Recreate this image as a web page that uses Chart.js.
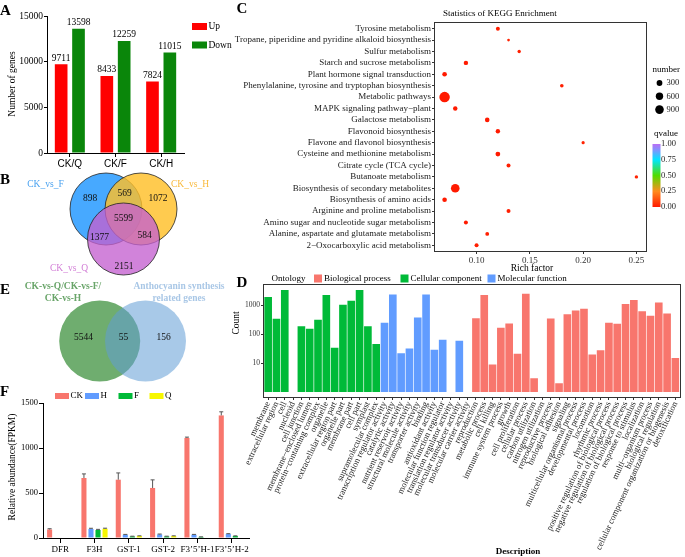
<!DOCTYPE html>
<html>
<head>
<meta charset="utf-8">
<title>DEG figure</title>
<script src="https://cdn.jsdelivr.net/npm/chart.js@4.4.1/dist/chart.umd.min.js"></script>
<style>
  body { margin: 0; background: #fff; }
  #fig { position: relative; width: 685px; height: 557px; overflow: hidden; background: #fff; }
  #fig canvas { position: absolute; left: 0; top: 0; }
</style>
</head>
<body>
<div id="fig">
  <canvas id="vennB" width="685" height="557"></canvas>
  <canvas id="vennE" width="685" height="557"></canvas>
  <canvas id="chartA" width="685" height="557"></canvas>
  <canvas id="chartC" width="685" height="557"></canvas>
  <canvas id="chartD" width="685" height="557"></canvas>
  <canvas id="chartF" width="685" height="557"></canvas>
</div>
<script>
// ---------- data ----------
// A: number of DEGs
const comparisons = ['CK/Q', 'CK/F', 'CK/H'];
const upGenes = [9711, 8433, 7824];
const downGenes = [13598, 12259, 11015];
const geneTicks = [0, 5000, 10000, 15000];

// B: venn of the three comparisons
const vennBSets = ['CK_vs_F', 'CK_vs_H', 'CK_vs_Q'];
const vennBCounts = [898, 569, 1072, 5599, 1377, 584, 2151]; // F, F&H, H, all, F&Q, H&Q, Q

// C: KEGG enrichment
const keggTerms = [
  'Tyrosine metabolism',
  'Tropane, piperidine and pyridine alkaloid biosynthesis',
  'Sulfur metabolism',
  'Starch and sucrose metabolism',
  'Plant hormone signal transduction',
  'Phenylalanine, tyrosine and tryptophan biosynthesis',
  'Metabolic pathways',
  'MAPK signaling pathway\u2212plant',
  'Galactose metabolism',
  'Flavonoid biosynthesis',
  'Flavone and flavonol biosynthesis',
  'Cysteine and methionine metabolism',
  'Citrate cycle (TCA cycle)',
  'Butanoate metabolism',
  'Biosynthesis of secondary metabolites',
  'Biosynthesis of amino acids',
  'Arginine and proline metabolism',
  'Amino sugar and nucleotide sugar metabolism',
  'Alanine, aspartate and glutamate metabolism',
  '2\u2212Oxocarboxylic acid metabolism'
];
const keggRich = [0.12, 0.13, 0.14, 0.09, 0.07, 0.18, 0.07, 0.08, 0.11, 0.12,
                  0.20, 0.12, 0.13, 0.25, 0.08, 0.07, 0.13, 0.09, 0.11, 0.10];
const keggGenes = [83, 10, 40, 119, 140, 53, 1500, 119, 140, 119,
                   30, 162, 83, 40, 900, 140, 83, 83, 67, 83];
const keggQ = [0.01, 0.02, 0.01, 0.0, 0.0, 0.01, 0.0, 0.0, 0.0, 0.0,
               0.02, 0.0, 0.01, 0.02, 0.0, 0.0, 0.01, 0.0, 0.01, 0.01];
const richTicks = [0.10, 0.15, 0.20, 0.25];
const sizeLegend = [300, 600, 900];
const qTicks = [1.00, 0.75, 0.50, 0.25, 0.00];

// D: GO classification
const ontologies = ['Biological process', 'Cellular component', 'Molecular function'];
const ccTerms = ['membrane', 'extracellular region', 'cell', 'nucleoid', 'cell junction',
  'membrane\u2212enclosed lumen', 'protein\u2212containing complex', 'organelle',
  'extracellular region part', 'organelle part', 'membrane part', 'cell part', 'symplast',
  'supramolecular complex'];
const ccCounts = [1950, 343, 3400, null, 190, 155, 316, 2290, 34, 1050, 1460, 3400, 190, 46];
const mfTerms = ['transcription regulator activity', 'catalytic activity', 'nutrient reservoir activity',
  'structural molecule activity', 'transporter activity', 'binding', 'antioxidant activity',
  'molecular function regulator', 'translation regulator activity', 'molecular transducer activity',
  'molecular carrier activity'];
const mfCounts = [250, 2410, 22, 32, 382, 2400, 29, 65, null, 60, null];
const bpTerms = ['reproduction', 'metabolic process', 'cell killing', 'immune system process', 'growth',
  'cell proliferation', 'cellular process', 'carbon utilization', 'nitrogen utilization',
  'reproductive process', 'biological adhesion', 'signaling', 'multicellular organismal process',
  'developmental process', 'locomotion', 'rhythmic process', 'positive regulation of biological process',
  'negative regulation of biological process', 'regulation of biological process', 'response to stimulus',
  'localization', 'multi\u2212organism process', 'biological regulation',
  'cellular component organization or biogenesis', 'detoxification'];
const bpCounts = [361, 2290, 9, 167, 236, 21, 2550, 3, null, 352, 2, 498, 670, 766, 20, 28,
  250, 230, 1110, 1530, 630, 437, 1270, 525, 15];
const countTicks = [10, 100, 1000];

// E: overlap with anthocyanin genes
const vennESets = [['CK-vs-Q/CK-vs-F/', 'CK-vs-H'], ['Anthocyanin synthesis', 'related genes']];
const vennECounts = [5544, 55, 156];

// F: FPKM of anthocyanin genes
const genes = ['DFR', 'F3H', 'GST-1', 'GST-2', 'F3\u20195\u2019H-1', 'F3\u20195\u2019H-2'];
const samples = ['CK', 'H', 'F', 'Q'];
const fpkmCK = [95, 667, 648, 556, 1111, 1362];
const fpkmH = [0, 100, 37, 40, 37, 44];
const fpkmF = [0, 89, 18, 18, 12, 22];
const fpkmQ = [0, 103, 22, 22, 0, 0];
const errCK = [8, 45, 75, 90, 10, 40];
const errH = [0, 8, 3, 4, 3, 4];
const errF = [0, 7, 2, 2, 1, 2];
const errQ = [0, 6, 2, 2, 0, 0];
const fpkmTicks = [0, 500, 1000, 1500];

// ---------- helpers ----------
const SERIF = "'Liberation Serif', 'Times New Roman', serif";
const SANS = "'Liberation Sans', Arial, sans-serif";
Chart.defaults.font.family = SERIF;
Chart.defaults.color = '#000';
Chart.defaults.animation = false;
Chart.defaults.responsive = false;
Chart.defaults.plugins.legend.display = false;
Chart.defaults.plugins.tooltip.enabled = false;

function drawText(ctx, s, x, y, font, color, align, baseline, angle) {
  ctx.save();
  ctx.font = font;
  ctx.fillStyle = color || '#000';
  ctx.textAlign = align || 'left';
  ctx.textBaseline = baseline || 'middle';
  ctx.translate(x, y);
  if (angle) ctx.rotate(angle);
  ctx.fillText(s, 0, 0);
  ctx.restore();
}

function fixedTicks(list) {
  return s => { s.ticks = list.map(v => ({ value: v })); };
}
const plain = v => String(v);

// q-value colour ramp (0 = red, 1 = purple)
const qStops = [[0, [255, 26, 0]], [0.25, [255, 140, 30]], [0.5, [80, 220, 0]],
                [0.75, [0, 230, 255]], [0.9, [125, 150, 255]], [1, [185, 110, 245]]];
function qColor(q) {
  for (let i = 1; i < qStops.length; i++) {
    if (q <= qStops[i][0]) {
      const [a, ca] = qStops[i - 1], [b, cb] = qStops[i];
      const t = (q - a) / (b - a);
      const c = ca.map((v, k) => Math.round(v + (cb[k] - v) * t));
      return `rgb(${c[0]},${c[1]},${c[2]})`;
    }
  }
  return 'rgb(185,110,245)';
}
const dotRadius = n => 1 + 0.11 * Math.sqrt(n);

// ---------- A ----------
new Chart(document.getElementById('chartA'), {
  type: 'bar',
  data: {
    labels: comparisons,
    datasets: [
      { label: 'Up', data: upGenes, backgroundColor: '#ff0000', categoryPercentage: 0.76, barPercentage: 0.73 },
      { label: 'Down', data: downGenes, backgroundColor: '#0a860a', categoryPercentage: 0.76, barPercentage: 0.73 }
    ]
  },
  options: {
    layout: { padding: { left: 0, top: 16, right: 501, bottom: 385 } },
    scales: {
      x: {
        grid: { display: true, offset: false, drawOnChartArea: false, tickLength: 4, tickColor: '#000' },
        border: { display: true, color: '#000' },
        ticks: { font: { family: SANS, size: 10 }, padding: 1, maxRotation: 0 },
        afterFit: s => { s.height = 19; }
      },
      y: {
        min: 0, max: 15000,
        afterBuildTicks: fixedTicks(geneTicks),
        grid: { drawOnChartArea: false, tickLength: 3, tickColor: '#000' },
        border: { display: true, color: '#000' },
        ticks: { font: { size: 9.5 }, padding: 1, callback: plain },
        afterFit: s => { s.width = 47; }
      }
    }
  },
  plugins: [{
    id: 'aText',
    afterDraw(chart) {
      const ctx = chart.ctx;
      chart.data.datasets.forEach((ds, i) => {
        chart.getDatasetMeta(i).data.forEach((bar, j) => {
          drawText(ctx, String(ds.data[j]), bar.x, bar.y - 1.5, '9.5px ' + SERIF, '#000', 'center', 'bottom');
        });
        const ly = [26.5, 45][i];
        ctx.fillStyle = ds.backgroundColor;
        ctx.fillRect(192, ly - 3.5, 15, 7);
        drawText(ctx, ds.label, 208.5, ly, '9.5px ' + SERIF);
      });
      drawText(ctx, 'Number of genes', 12.5, 84, '9.5px ' + SERIF, '#000', 'center', 'middle', -Math.PI / 2);
      drawText(ctx, 'A', 0, 15, 'bold 15px ' + SERIF, '#000', 'left', 'alphabetic');
    }
  }]
});

// ---------- B and E (venn) ----------
function vennChart(id, circles, colors, border, extras) {
  return new Chart(document.getElementById(id), {
    type: 'bubble',
    data: { datasets: [{ data: circles, backgroundColor: colors, borderColor: border || 'rgba(0,0,0,0)', borderWidth: border ? 0.8 : 0, clip: false }] },
    options: {
      layout: { padding: 0, autoPadding: false },
      scales: {
        x: { type: 'linear', min: 0, max: 685, display: false },
        y: { type: 'linear', min: 0, max: 557, reverse: true, display: false }
      }
    },
    plugins: [{ id: id + 'Text', afterDraw: extras }]
  });
}

// layout of the venn diagrams (page pixels)
const vennBCircles = [{ x: 106, y: 209, r: 36 }, { x: 141, y: 209, r: 36 }, { x: 123.5, y: 239, r: 36 }];
const vennBSetPos = [[45.5, 184], [190, 184], [69, 268]];
const vennBSetColors = ['#4aa2f0', '#f9b93a', '#d27ed6'];
const vennBCountPos = [[90, 198], [124.5, 193.5], [158, 198], [123.5, 218.5], [99.5, 237], [144.5, 235.5], [124, 266]];

vennChart('vennB', vennBCircles,
  ['rgba(30,150,255,0.82)', 'rgba(255,192,40,0.82)', 'rgba(196,96,208,0.78)'], '#222',
  chart => {
    const ctx = chart.ctx, sx = chart.scales.x, sy = chart.scales.y;
    vennBSets.forEach((s, i) => drawText(ctx, s, sx.getPixelForValue(vennBSetPos[i][0]), sy.getPixelForValue(vennBSetPos[i][1]), '9.5px ' + SERIF, vennBSetColors[i], 'center'));
    vennBCounts.forEach((n, i) => drawText(ctx, String(n), sx.getPixelForValue(vennBCountPos[i][0]), sy.getPixelForValue(vennBCountPos[i][1]), '9.5px ' + SERIF, '#111', 'center'));
    drawText(ctx, 'B', 0, 183.5, 'bold 15px ' + SERIF, '#000', 'left', 'alphabetic');
  });

const vennECircles = [{ x: 99.7, y: 341, r: 40.5 }, { x: 145.5, y: 341, r: 40.5 }];
const vennESetPos = [[63, 286.5], [179, 286.5]];
const vennESetColors = ['#6aa56a', '#a9c7e6'];
const vennECountPos = [[83.5, 337], [123.5, 337], [163.5, 337]];

vennChart('vennE', vennECircles, ['rgba(111,173,111,1)', 'rgba(97,157,213,0.55)'], null,
  chart => {
    const ctx = chart.ctx, sx = chart.scales.x, sy = chart.scales.y;
    vennESets.forEach((lines, i) => lines.forEach((s, k) =>
      drawText(ctx, s, sx.getPixelForValue(vennESetPos[i][0]), sy.getPixelForValue(vennESetPos[i][1] + k * 12), 'bold 9.5px ' + SERIF, vennESetColors[i], 'center')));
    vennECounts.forEach((n, i) => drawText(ctx, String(n), sx.getPixelForValue(vennECountPos[i][0]), sy.getPixelForValue(vennECountPos[i][1]), '9.5px ' + SERIF, '#111', 'center'));
    drawText(ctx, 'E', 0, 293.5, 'bold 15px ' + SERIF, '#000', 'left', 'alphabetic');
  });

// ---------- C ----------
new Chart(document.getElementById('chartC'), {
  type: 'scatter',
  data: {
    datasets: [{
      data: keggTerms.map((t, i) => ({ x: keggRich[i], y: t })),
      pointRadius: c => dotRadius(keggGenes[c.dataIndex]),
      backgroundColor: c => qColor(keggQ[c.dataIndex]),
      borderWidth: 0
    }]
  },
  options: {
    layout: { padding: { left: 215, top: 23, right: 39, bottom: 284 } },
    scales: {
      x: {
        type: 'linear', min: 0.061, max: 0.259,
        afterBuildTicks: fixedTicks(richTicks),
        ticks: { callback: v => v.toFixed(2), font: { size: 9 }, color: '#333', padding: 1 },
        grid: { drawOnChartArea: false, tickLength: 3, tickColor: '#333' },
        border: { display: false },
        afterFit: s => { s.height = 22; }
      },
      y: {
        type: 'category', labels: keggTerms, offset: true,
        ticks: { font: { size: 9 }, color: '#1a1a1a', padding: 1, autoSkip: false },
        grid: { offset: false, drawOnChartArea: false, tickLength: 3, tickColor: '#333' },
        border: { display: false },
        afterFit: s => { s.width = 220; }
      }
    }
  },
  plugins: [{
    id: 'cText',
    afterDraw(chart) {
      const ctx = chart.ctx, a = chart.chartArea;
      ctx.save();
      ctx.strokeStyle = '#333'; ctx.lineWidth = 1;
      ctx.strokeRect(Math.round(a.left) - 0.5, Math.round(a.top) - 0.5, Math.round(a.right - a.left) + 1, Math.round(a.bottom - a.top) + 1);
      ctx.restore();
      drawText(ctx, 'Statistics of KEGG Enrichment', 443, 14, '9px ' + SERIF, '#000', 'left');
      drawText(ctx, 'Rich factor', 532, 268, '9.5px ' + SERIF, '#000', 'center');
      // size legend
      drawText(ctx, 'number', 652.5, 70, '9px ' + SERIF);
      sizeLegend.forEach((n, i) => {
        const y = 83 + i * 13.3;
        ctx.beginPath(); ctx.fillStyle = '#000';
        ctx.arc(659.5, y, dotRadius(n), 0, Math.PI * 2); ctx.fill();
        drawText(ctx, String(n), 666.5, y, '8.5px ' + SERIF, '#222');
      });
      // colour legend
      drawText(ctx, 'qvalue', 654, 134, '9px ' + SERIF);
      const top = 144, bot = 207;
      const g = ctx.createLinearGradient(0, bot, 0, top);
      qStops.forEach(([q, c]) => g.addColorStop(q, `rgb(${c[0]},${c[1]},${c[2]})`));
      ctx.fillStyle = g;
      ctx.fillRect(652.5, top, 8, bot - top);
      qTicks.forEach(q => drawText(ctx, q.toFixed(2), 661, bot - q * (bot - top), '8.5px ' + SERIF, '#222'));
      drawText(ctx, 'C', 236.5, 12.5, 'bold 15px ' + SERIF, '#000', 'left', 'alphabetic');
    }
  }]
});

// ---------- D ----------
const goTerms = ccTerms.concat(mfTerms, bpTerms);
const goCounts = ccCounts.concat(mfCounts, bpCounts);
const goColors = ['#f8766d', '#00ba38', '#619cff'];
const goBarColors = ccTerms.map(() => goColors[1])
  .concat(mfTerms.map(() => goColors[2]), bpTerms.map(() => goColors[0]));

new Chart(document.getElementById('chartD'), {
  type: 'bar',
  data: {
    labels: goTerms,
    datasets: [{ data: goCounts, backgroundColor: goBarColors, base: 1, categoryPercentage: 1, barPercentage: 0.92 }]
  },
  options: {
    layout: { padding: { left: 215, top: 285, right: 3, bottom: 0 } },
    scales: {
      x: {
        offset: true,
        grid: { display: true, offset: false, drawOnChartArea: false, tickLength: 3, tickColor: '#333' },
        border: { display: false },
        ticks: { autoSkip: false, minRotation: 65, maxRotation: 65, font: { size: 8.8 }, color: '#222', padding: 0 },
        afterFit: s => { s.height = 160; }
      },
      y: {
        type: 'logarithmic', min: 0.665, max: 5105,
        afterBuildTicks: fixedTicks(countTicks),
        ticks: { callback: plain, font: { size: 7.5 }, color: '#333', padding: 1 },
        grid: { drawOnChartArea: false, tickLength: 3, tickColor: '#333' },
        border: { display: false },
        afterFit: s => { s.width = 49; }
      }
    }
  },
  plugins: [{
    id: 'dText',
    afterDraw(chart) {
      const ctx = chart.ctx, a = chart.chartArea;
      ctx.save();
      ctx.strokeStyle = '#333'; ctx.lineWidth = 1;
      ctx.strokeRect(Math.round(a.left) - 0.5, Math.round(a.top) - 0.5, Math.round(a.right - a.left) + 1, Math.round(a.bottom - a.top) + 1);
      ctx.restore();
      drawText(ctx, 'Ontology', 271.5, 278.5, '9px ' + SERIF);
      const lx = [314, 400.5, 487.5];
      ontologies.forEach((o, i) => {
        ctx.fillStyle = goColors[i];
        ctx.fillRect(lx[i], 274.5, 8, 8);
        drawText(ctx, o, lx[i] + 10, 278.5, '9px ' + SERIF);
      });
      drawText(ctx, 'Count', 236.5, 323, '9.5px ' + SERIF, '#000', 'center', 'middle', -Math.PI / 2);
      drawText(ctx, 'Description', 518, 551.5, 'bold 9px ' + SERIF, '#000', 'center');
      drawText(ctx, 'D', 236.5, 287, 'bold 15px ' + SERIF, '#000', 'left', 'alphabetic');
    }
  }]
});

// ---------- F ----------
const fpkmSeries = [fpkmCK, fpkmH, fpkmF, fpkmQ];
const fpkmErr = [errCK, errH, errF, errQ];
const fpkmColors = ['#f8766d', '#619cff', '#00ba38', '#f7f700'];

new Chart(document.getElementById('chartF'), {
  type: 'bar',
  data: {
    labels: genes,
    datasets: samples.map((s, i) => ({
      label: s, data: fpkmSeries[i], backgroundColor: fpkmColors[i],
      categoryPercentage: 0.82, barPercentage: 0.72
    }))
  },
  options: {
    layout: { padding: { left: 0, top: 403, right: 436, bottom: 1 } },
    scales: {
      x: {
        grid: { display: true, offset: false, drawOnChartArea: false, tickLength: 5, tickColor: '#000' },
        border: { display: true, color: '#000' },
        ticks: { font: { size: 9 }, padding: 1, minRotation: 0, maxRotation: 0, autoSkip: false },
        afterFit: s => { s.height = 18; }
      },
      y: {
        min: 0, max: 1500,
        afterBuildTicks: fixedTicks(fpkmTicks),
        grid: { drawOnChartArea: false, tickLength: 4, tickColor: '#000' },
        border: { display: true, color: '#000' },
        ticks: { font: { size: 8.5 }, padding: 1, callback: plain },
        afterFit: s => { s.width = 43; }
      }
    }
  },
  plugins: [{
    id: 'fText',
    afterDatasetsDraw(chart) {
      const ctx = chart.ctx, ys = chart.scales.y;
      ctx.save();
      ctx.strokeStyle = '#555'; ctx.lineWidth = 1;
      chart.data.datasets.forEach((ds, i) => {
        chart.getDatasetMeta(i).data.forEach((bar, j) => {
          const e = fpkmErr[i][j];
          if (!e) return;
          const y1 = ys.getPixelForValue(ds.data[j] + e);
          ctx.beginPath();
          ctx.moveTo(bar.x, bar.y); ctx.lineTo(bar.x, y1);
          ctx.moveTo(bar.x - 2, y1); ctx.lineTo(bar.x + 2, y1);
          ctx.stroke();
        });
      });
      ctx.restore();
    },
    afterDraw(chart) {
      const ctx = chart.ctx;
      const lx = [55, 85, 118.5, 149.5];
      samples.forEach((s, i) => {
        ctx.fillStyle = fpkmColors[i];
        ctx.fillRect(lx[i], 393, 14, 6);
        drawText(ctx, s, lx[i] + 15.5, 396, '9px ' + SERIF);
      });
      drawText(ctx, 'Relative abundance(FPKM)', 12, 467, '9.5px ' + SERIF, '#000', 'center', 'middle', -Math.PI / 2);
      drawText(ctx, 'F', 0, 395.5, 'bold 15px ' + SERIF, '#000', 'left', 'alphabetic');
    }
  }]
});
</script>
</body>
</html>
